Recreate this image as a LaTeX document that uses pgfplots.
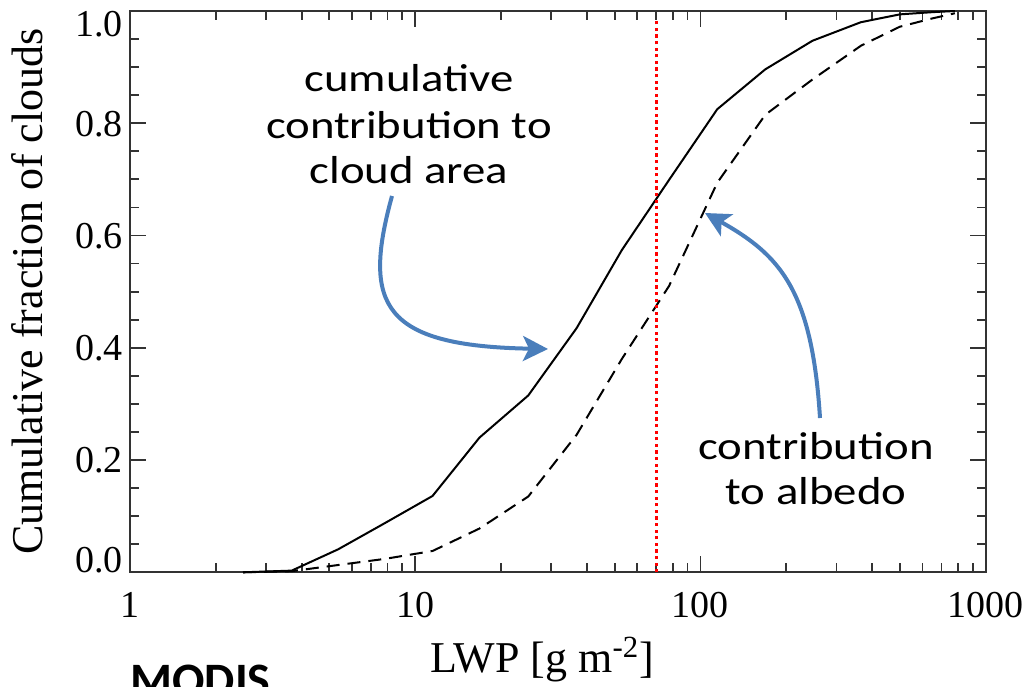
\documentclass[border=0pt]{standalone}
\usepackage{pgfplots}
\pgfplotsset{compat=1.18}
\usepackage{fontspec}
\setmainfont{Liberation Serif}
\newfontfamily\carlito{Carlito}
\usetikzlibrary{arrows.meta}

\definecolor{arrowblue}{RGB}{74,126,187}

% cumulative fraction vs LWP
\pgfplotstableread{
lwp   area   albedo
2.49  0.000  0.000
3.69  0.003  0.002
5.37  0.041  0.013
7.85  0.088  0.024
11.5  0.136  0.038
16.8  0.240  0.078
24.9  0.315  0.135
36.8  0.435  0.245
53.0  0.574  0.380
77.6  0.699  0.510
114.5 0.825  0.694
168.7 0.896  0.815
247   0.947  0.878
365   0.980  0.938
500   0.994  0.972
653   0.998  0.987
780   1.000  0.996
}\modis

\begin{document}
\begin{tikzpicture}
\begin{axis}[
    at={(0,0)}, anchor=south west,
    scale only axis,
    width=427.85pt, height=280.65pt,
    xmode=log,
    xmin=1, xmax=1000,
    ymin=0, ymax=1,
    clip=false,
    xtick={1,10,100,1000},
    xticklabels={1,10,100,1000},
    minor xtick={2,3,4,5,6,7,8,9,20,30,40,50,60,70,80,90,200,300,400,500,600,700,800,900},
    ytick={0,0.2,0.4,0.6,0.8,1},
    yticklabels={\raisebox{6.5pt}{0.0},0.2,0.4,0.6,0.8,\raisebox{-6.25pt}{1.0}},
    minor y tick num=3,
    tick align=inside,
    tick pos=both,
    major tick length=8pt,
    minor tick length=4.5pt,
    axis line style={line width=1pt, black!80},
    tick style={line width=0.9pt, black!80},
    tick label style={font=\fontsize{19}{22}\selectfont},
    yticklabel style={text height=12.8pt, text depth=0pt},
    xticklabel style={yshift=-6.5pt},
    xlabel={LWP [g m\textsuperscript{-2}]},
    ylabel={Cumulative fraction of clouds},
    label style={font=\fontsize{22}{26}\selectfont},
    xlabel style={at={(rel axis cs:0.4815,-0.1794)}, anchor=base},
    ylabel style={at={(rel axis cs:-0.1028,0.5)}, anchor=base},
]
\addplot[black, line width=1pt] table[x=lwp, y=area] {\modis};
\addplot[black, line width=1pt, dash pattern=on 6.5pt off 4pt] table[x=lwp, y=albedo] {\modis};
\addplot[red, line width=1.6pt, dash pattern=on 1.6pt off 1.7pt] coordinates {(70,0) (70,0.984)};
\end{axis}

% annotations, placed in image pixel coordinates
\begin{scope}[shift={(-65pt,286.15pt)}, x=0.5pt, y=-0.5pt]
  \begin{scope}[font=\carlito\fontsize{19.5}{23}\selectfont]
    \node[anchor=base, xscale=1.2] at (409,91.7) {cumulative};
    \node[anchor=base, xscale=1.2] at (409,138.3) {contribution to};
    \node[anchor=base, xscale=1.2] at (409,183.3) {cloud area};
    \node[anchor=base, xscale=1.2] at (816,459) {contribution};
    \node[anchor=base, xscale=1.2] at (816,504) {to albedo};
  \end{scope}
  \draw[arrowblue, line width=2pt, -{Stealth[length=12.5pt, width=12.5pt, inset=3pt]}]
    (392,196) .. controls (362,305) and (382,346) .. (548,349);
  \draw[arrowblue, line width=2pt, -{Stealth[length=12.5pt, width=12.5pt, inset=3pt]}]
    (820,418) .. controls (812,290) and (780,255) .. (705,213);
  \node[anchor=base west, inner sep=0pt, font=\carlito\bfseries\fontsize{24}{28}\selectfont] at (130,696) {MODIS};
  \pgfresetboundingbox
  \useasboundingbox (0,0) rectangle (1028,686);
\end{scope}
\end{tikzpicture}
\end{document}
